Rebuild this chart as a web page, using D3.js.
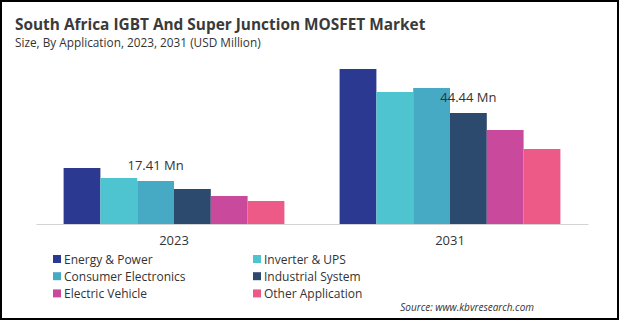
<!DOCTYPE html>
<html>
<head>
<meta charset="utf-8">
<script src="https://cdn.jsdelivr.net/npm/d3@7"></script>
<style>
  body { margin: 0; background: #fff; }
  text { font-family: "Open Sans", "Noto Sans", sans-serif; fill: #333; }
</style>
</head>
<body>
<div id="root"></div>
<script>
// data (USD Million, estimated)
var years = ["2023", "2031"];
var segments = ["Energy & Power", "Inverter & UPS", "Consumer Electronics",
                "Industrial System", "Electric Vehicle", "Other Application"];
var colors = ["#2b3990", "#4ec4d0", "#46aac4", "#2c4a6e", "#c9499c", "#ee5a88"];
var values2023 = [5.6, 4.6, 4.3, 3.5, 2.8, 2.3];
var values2031 = [15.5, 13.2, 13.6, 11.1, 9.4, 7.5];
var labelTexts = ["17.41 Mn", "44.44 Mn"];
var labelAnchors = ["Consumer Electronics", "Industrial System"];

var W = 620, H = 322;

var svg = d3.select("#root")
    .append("svg")
    .attr("width", W)
    .attr("height", H);

svg.append("rect")
    .attr("x", 1).attr("y", 1)
    .attr("width", 617).attr("height", 318)
    .attr("fill", "#fff")
    .attr("stroke", "#000")
    .attr("stroke-width", 2);

// title
svg.append("text")
    .attr("x", 15).attr("y", 30)
    .style("font-size", "15.4px")
    .style("font-weight", "bold")
    .style("fill", "#3a3a3a")
    .text("South Africa IGBT And Super Junction MOSFET Market");

svg.append("text")
    .attr("x", 15).attr("y", 47)
    .style("font-size", "11.8px")
    .text("Size, By Application, 2023, 2031 (USD Million)");

// scales
var x0 = d3.scaleBand()
    .domain(years)
    .range([36, 588])
    .paddingInner(0.2)
    .paddingOuter(0.1);

var x1 = d3.scaleBand()
    .domain(segments)
    .range([0, x0.bandwidth()]);

var y = d3.scaleLinear()
    .domain([0, 16])
    .range([224, 64]);

var color = d3.scaleOrdinal().domain(segments).range(colors);

var table = years.map(function (yr, i) {
    var vals = i === 0 ? values2023 : values2031;
    return { year: yr, items: segments.map(function (s, j) { return { seg: s, v: vals[j] }; }) };
});

// bars
var groups = svg.append("g").selectAll("g")
    .data(table)
    .join("g")
    .attr("transform", function (d) { return "translate(" + x0(d.year) + ",0)"; });

groups.selectAll("rect")
    .data(function (d) { return d.items; })
    .join("rect")
    .attr("x", function (d) { return x1(d.seg); })
    .attr("y", function (d) { return y(d.v); })
    .attr("width", x1.bandwidth())
    .attr("height", function (d) { return y(0) - y(d.v); })
    .attr("fill", function (d) { return color(d.seg); });

// x axis
var xAxis = svg.append("g")
    .attr("transform", "translate(0," + y(0) + ")")
    .call(d3.axisBottom(x0).tickSize(0).tickPadding(12).tickSizeOuter(0));
xAxis.select(".domain").attr("stroke", "#d4d4d4").attr("stroke-width", 1.2);
xAxis.selectAll("text")
    .style("font-size", "13px")
    .style("font-family", "'Open Sans', sans-serif")
    .attr("fill", "#333");

// value labels, centred over one bar of each group
svg.append("g").selectAll("text")
    .data(table)
    .join("text")
    .attr("x", function (d, i) { return x0(d.year) + x1(labelAnchors[i]) + x1.bandwidth() / 2; })
    .attr("y", function (d, i) {
        var a = d.items.find(function (e) { return e.seg === labelAnchors[i]; });
        return y(a.v) - 11.5;
    })
    .attr("text-anchor", "middle")
    .style("font-size", "13px")
    .text(function (d, i) { return labelTexts[i]; });

// legend
var legend = svg.append("g").selectAll("g")
    .data(segments)
    .join("g")
    .attr("transform", function (d, i) {
        return "translate(" + (i % 2 === 0 ? 53 : 253) + "," + (255 + Math.floor(i / 2) * 17.2) + ")";
    });

legend.append("rect")
    .attr("width", 8).attr("height", 8)
    .attr("fill", function (d) { return color(d); });

legend.append("text")
    .attr("x", 11).attr("y", 8.5)
    .style("font-size", "12px")
    .text(function (d) { return d; });

svg.append("text")
    .attr("x", 534).attr("y", 311)
    .attr("text-anchor", "end")
    .style("font-size", "10px")
    .style("font-style", "italic")
    .text("Source: www.kbvresearch.com");
</script>
</body>
</html>
